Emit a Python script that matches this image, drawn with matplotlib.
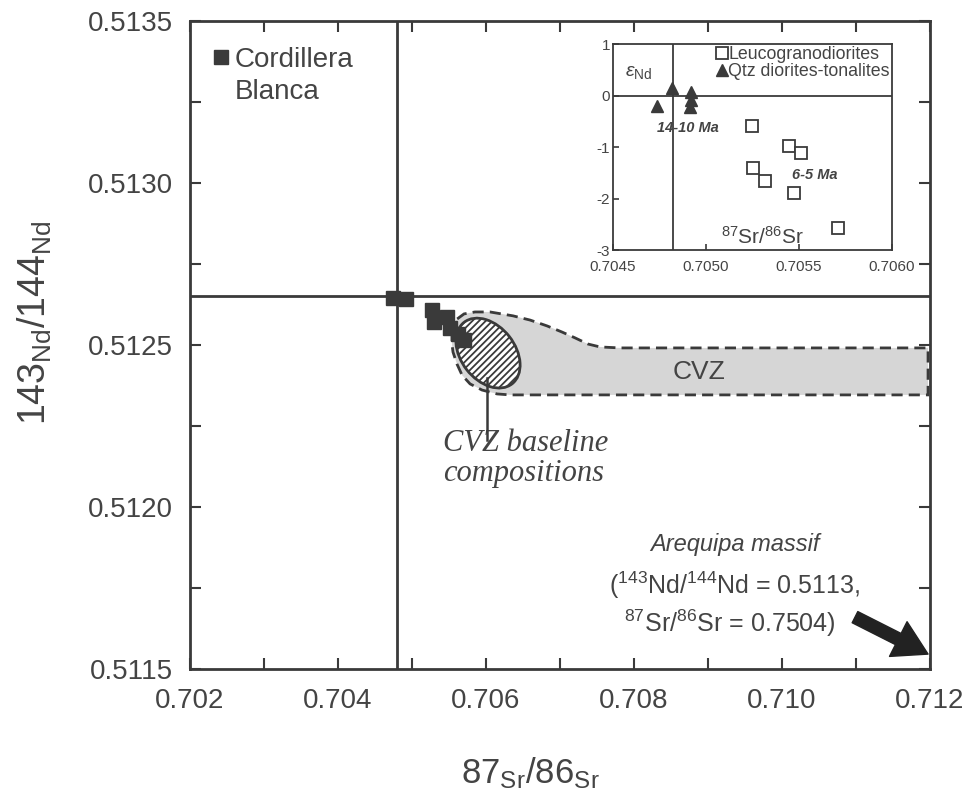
import numpy as np
import matplotlib
matplotlib.use("Agg")
import matplotlib.pyplot as plt
from matplotlib.patches import Polygon, Ellipse
from matplotlib.transforms import ScaledTranslation
from matplotlib.ticker import MultipleLocator, FormatStrFormatter

plt.rcParams["font.family"] = ["Liberation Sans", "DejaVu Sans"]
plt.rcParams["mathtext.fontset"] = "custom"
plt.rcParams["mathtext.rm"] = "Liberation Sans"
plt.rcParams["mathtext.it"] = "Liberation Sans:italic"
plt.rcParams["mathtext.bf"] = "Liberation Sans:bold"
plt.rcParams["hatch.linewidth"] = 1.3

INK = "#3a3a3a"
TXT = "#444444"

# ── main panel data ──────────────────────────────────────────────
cb_sr = [0.70474, 0.70492, 0.70527, 0.70530, 0.70547, 0.70551, 0.70562, 0.70570]
cb_nd = [0.512645, 0.512642, 0.512608, 0.512571, 0.512586, 0.512552, 0.512533, 0.512515]

bulk_sr = 0.7048
bulk_nd = 0.51265

cvz_sr = [0.705541, 0.705554, 0.705608, 0.705703, 0.705851, 0.706054, 0.706365,
          0.706595, 0.706824, 0.707027, 0.707203, 0.707378, 0.707541, 0.707811,
          0.711973, 0.711973, 0.706324, 0.706149, 0.705946, 0.705784, 0.705676,
          0.705608, 0.705554, 0.705541]
cvz_nd = [0.512531, 0.512559, 0.512580, 0.512596, 0.512602, 0.512602, 0.512590,
          0.512577, 0.512559, 0.512540, 0.512522, 0.512503, 0.512494, 0.512491,
          0.512491, 0.512346, 0.512346, 0.512349, 0.512361, 0.512380, 0.512407,
          0.512441, 0.512478, 0.512500]

baseline_center = (0.706027, 0.512475)

arrow_tail = (0.710986, 0.511660)
arrow_tip = (0.711973, 0.511546)

# ── inset data ───────────────────────────────────────────────────
qtz_sr = [0.704737, 0.704817, 0.704919, 0.704919, 0.704914]
qtz_end = [-0.20, 0.15, 0.07, -0.09, -0.22]

leuco_sr = [0.705247, 0.705446, 0.705511, 0.705253, 0.705317, 0.705473, 0.705710]
leuco_end = [-0.59, -0.98, -1.12, -1.41, -1.66, -1.89, -2.57]

fig = plt.figure(figsize=(9.7, 7.99), dpi=100)
ax = fig.add_axes([0.1959, 0.1627, 0.7629, 0.811])

ax.set_xlim(0.702, 0.712)
ax.set_ylim(0.5115, 0.5135)

# crosshair
ax.axvline(bulk_sr, color=INK, lw=2.0, zorder=2)
ax.axhline(bulk_nd, color=INK, lw=2.0, zorder=2)

# CVZ field
cvz = Polygon(np.column_stack([cvz_sr, cvz_nd]), closed=True, facecolor="#d6d6d6",
              edgecolor=INK, lw=2.0, linestyle=(0, (4, 2.2)), zorder=3)
ax.add_patch(cvz)

# CVZ baseline ellipse (size given in inches, centred in data)
ell = Ellipse((0, 0), 0.78, 0.54, angle=-52,
              transform=fig.dpi_scale_trans + ScaledTranslation(*baseline_center, ax.transData),
              facecolor="white", edgecolor=INK, hatch="/////", lw=2.0, zorder=4)
ax.add_patch(ell)

ax.plot([0.706014, 0.706014], [0.512398, 0.512207], color=INK, lw=1.8, zorder=4)

ax.plot(cb_sr, cb_nd, "s", color=INK, ms=10, zorder=5)

ax.text(0.708878, 0.512417, "CVZ", fontsize=19, color=TXT, ha="center", va="center", zorder=6)
ax.text(0.70542, 0.51224, "CVZ baseline\ncompositions", fontsize=22, color=TXT,
        family="Liberation Serif", style="italic", ha="left", va="top", linespacing=1.05)

# legend-like key
ax.plot([0.702419], [0.513389], "s", color=INK, ms=10)
ax.text(0.702608, 0.513329, "Cordillera\nBlanca", fontsize=20, color=TXT,
        ha="left", va="center", linespacing=1.3)

# Arequipa note + arrow
ax.text(0.709365, 0.511883, "Arequipa massif", fontsize=17, color=TXT,
        style="italic", ha="center", va="center")
ax.text(0.709365, 0.511759, r"($^{143}$Nd/$^{144}$Nd = 0.5113,", fontsize=18,
        color=TXT, ha="center", va="center")
ax.text(0.709300, 0.511642, r"$^{87}$Sr/$^{86}$Sr = 0.7504)", fontsize=18,
        color=TXT, ha="center", va="center")
ax.annotate("", xy=arrow_tip, xytext=arrow_tail,
            arrowprops=dict(arrowstyle="simple,head_length=2.4,head_width=2.8,tail_width=0.9",
                            mutation_scale=10, color="#222222", shrinkA=0, shrinkB=0),
            zorder=6)

# axes styling
ax.xaxis.set_major_locator(MultipleLocator(0.002))
ax.xaxis.set_minor_locator(MultipleLocator(0.001))
ax.yaxis.set_major_locator(MultipleLocator(0.0005))
ax.yaxis.set_minor_locator(MultipleLocator(0.00025))
ax.xaxis.set_major_formatter(FormatStrFormatter("%.3f"))
ax.yaxis.set_major_formatter(FormatStrFormatter("%.4f"))
ax.tick_params(which="both", direction="in", top=True, right=True, width=1.5,
               color=INK, labelcolor=TXT, labelsize=20)
ax.tick_params(which="major", length=8)
ax.tick_params(which="minor", length=8)
ax.tick_params(axis="x", pad=14)
ax.tick_params(axis="y", pad=12)
for s in ax.spines.values():
    s.set_linewidth(2.0)
    s.set_color(INK)

ax.set_xlabel(r"87$_{\mathrm{Sr}}$/86$_{\mathrm{Sr}}$", fontsize=25, color=TXT, va="center")
ax.set_ylabel(r"143$_{\mathrm{Nd}}$/144$_{\mathrm{Nd}}$", fontsize=27, color=TXT, va="center")
ax.xaxis.set_label_coords(0.46, -0.16)
ax.yaxis.set_label_coords(-0.21, 0.535)

# ── inset ────────────────────────────────────────────────────────
ins = fig.add_axes([0.632, 0.6871, 0.2876, 0.2578])
ins.set_xlim(0.7045, 0.7060)
ins.set_ylim(-3, 1)
ins.axvline(0.704823, color=INK, lw=1.3)
ins.axhline(0, color=INK, lw=1.3)
ins.plot(leuco_sr, leuco_end, "s", mfc="white", mec=INK, mew=1.3, ms=8,
         label="Leucogranodiorites", ls="none")
ins.plot(qtz_sr, qtz_end, "^", color=INK, ms=8, label="Qtz diorites-tonalites", ls="none")
ins.legend(loc="upper right", frameon=False, fontsize=12.8, handlelength=0.5,
           handletextpad=0.1, borderaxespad=0.02, labelspacing=0.0, borderpad=0.1,
           labelcolor=TXT)
ins.text(0.70464, 0.44, r"$\varepsilon_{\mathrm{Nd}}$", fontsize=14, color=TXT,
         ha="center", va="center")
ins.text(0.704903, -0.63, "14-10 Ma", fontsize=10.5, color=TXT, weight="bold",
         style="italic", ha="center", va="center")
ins.text(0.705586, -1.54, "6-5 Ma", fontsize=10.5, color=TXT, weight="bold",
         style="italic", ha="center", va="center")
ins.text(0.705306, -2.75, r"$^{87}$Sr/$^{86}$Sr", fontsize=15, color=TXT,
         ha="center", va="center")
ins.xaxis.set_major_locator(MultipleLocator(0.0005))
ins.yaxis.set_major_locator(MultipleLocator(1))
ins.xaxis.set_major_formatter(FormatStrFormatter("%.4f"))
ins.yaxis.set_major_formatter(FormatStrFormatter("%d"))
ins.tick_params(direction="in", length=4, width=1.2, color=INK, labelcolor=TXT,
                labelsize=11)
ins.tick_params(axis="x", pad=7)
ins.tick_params(axis="y", pad=2)
for s in ins.spines.values():
    s.set_linewidth(1.3)
    s.set_color(INK)

fig.savefig("out.png", dpi=100)
